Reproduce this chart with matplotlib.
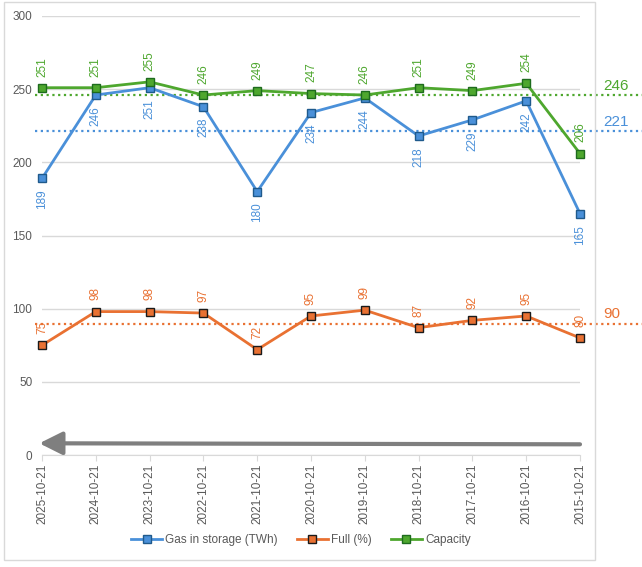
import numpy as np
import matplotlib.pyplot as plt
from matplotlib.patches import Rectangle

plt.rcParams['font.family'] = ['Liberation Sans', 'DejaVu Sans']

dates = ["2025-10-21", "2024-10-21", "2023-10-21", "2022-10-21", "2021-10-21",
         "2020-10-21", "2019-10-21", "2018-10-21", "2017-10-21", "2016-10-21",
         "2015-10-21"]
gas = [189, 246, 251, 238, 180, 234, 244, 218, 229, 242, 165]
full = [75, 98, 98, 97, 72, 95, 99, 87, 92, 95, 80]
capacity = [251, 251, 255, 246, 249, 247, 246, 251, 249, 254, 206]
yticks = [0, 50, 100, 150, 200, 250, 300]

blue, orange, green = "#4A90D9", "#E97132", "#4EA72E"
blue_e, orange_e, green_e = "#1F5A8C", "#1A1A1A", "#1E6B1E"
grey_txt = "#595959"

fig = plt.figure(figsize=(6.42, 5.67), dpi=100)
fig.patches.append(Rectangle((4/642, 1-560/567), 591/642, 558/567,
                             transform=fig.transFigure, fill=False,
                             edgecolor="#D9D9D9", lw=1))
ax = fig.add_axes([42/642, 1-455/567, 538/642, 439/567])

x = np.arange(len(dates))
series = [
    ("Gas in storage (TWh)", gas, blue, blue_e, -1),
    ("Full (%)", full, orange, orange_e, 1),
    ("Capacity", capacity, green, green_e, 1),
]
for name, vals, c, ec, side in series:
    ax.plot(x, vals, color=c, lw=2, marker="s", ms=5.5, mfc=c, mec=ec, mew=1,
            label=name, zorder=3, clip_on=False)
    for xi, v in zip(x, vals):
        ax.annotate(str(v), (xi, v), xytext=(0, 8*side), textcoords="offset points",
                    rotation=90, ha="center", va="bottom" if side > 0 else "top",
                    fontsize=8.5, color=c, zorder=4)
    m = np.mean(vals)
    ax.plot([-0.13, 11.2], [m, m], ls=(0, (1, 1.6)), color=c, lw=1.6,
            clip_on=False, zorder=2)
    ax.text(10.43, m + 1.5, "%d" % round(m), color=c, fontsize=11,
            ha="left", va="bottom", clip_on=False)

# arrow pointing back in time
ax.annotate("", xy=(-0.05, 8.0), xytext=(10, 7.3), annotation_clip=False,
            arrowprops=dict(arrowstyle="-|>,head_length=1.0,head_width=0.5",
                            color="#7F7F7F", lw=3, shrinkA=0, shrinkB=0,
                            mutation_scale=14),
            zorder=2)

ax.set_xlim(0, 10)
ax.set_ylim(0, 300)
ax.set_yticks(yticks)
ax.set_xticks(x)
ax.set_xticklabels(dates, rotation=90)
ax.grid(axis="y", color="#D9D9D9", lw=1)
ax.set_axisbelow(True)
for s in ["left", "right", "top"]:
    ax.spines[s].set_visible(False)
ax.spines["bottom"].set_color("#D9D9D9")
ax.tick_params(axis="y", length=0, pad=7, labelsize=8.5, labelcolor=grey_txt)
ax.tick_params(axis="x", length=4, color="#D9D9D9", pad=2, labelsize=8.5,
               labelcolor=grey_txt)

fig.legend(loc="center", bbox_to_anchor=(301/642, 1-540/567), ncol=3,
           frameon=False, fontsize=8.5, handlelength=2.6, columnspacing=1.6,
           handletextpad=0.3, labelcolor=grey_txt)

fig.savefig("out.png", dpi=100)
